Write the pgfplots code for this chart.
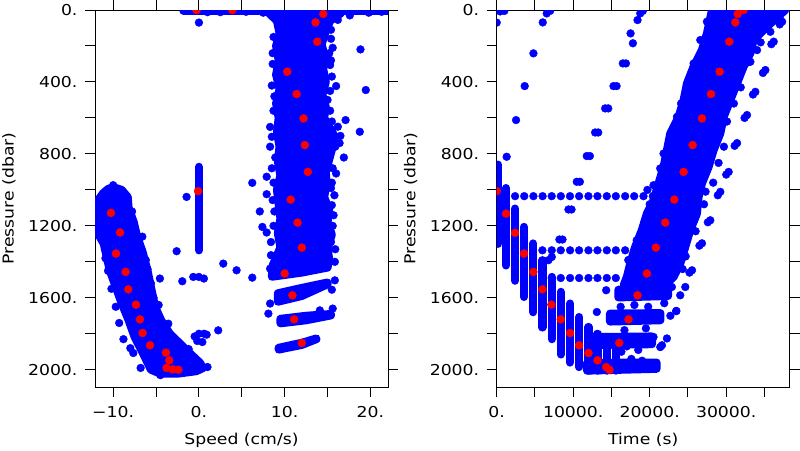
\documentclass[border=0pt]{standalone}
\usepackage{pgfplots}
\pgfplotsset{compat=1.18}
\usepackage{fontspec}
\setmainfont{DejaVu Sans}[FakeStretch=1.15]
\definecolor{dotblue}{RGB}{0,0,255}
\definecolor{dotred}{RGB}{255,0,0}
\pgfplotsset{
  myaxis/.style={
    scale only axis, width=293pt, height=377pt,
    y dir=reverse, ymin=0, ymax=2096,
    ytick={0,400,800,1200,1600,2000},
    yticklabels={0.,400.,800.,1200.,1600.,2000.},
    minor ytick={200,600,1000,1400,1800},
    tick align=outside, major tick length=10pt, minor tick length=10pt,
    every tick/.style={black, line width=1pt},
    axis line style={line width=1pt},
    tick label style={font=\fontsize{15}{18}\selectfont},
    yticklabel style={xshift=-4pt},
    xticklabel style={yshift=-6pt},
    ylabel={Pressure (dbar)},
    every axis y label/.style={at={(axis description cs:-0.2935,0.5)}, rotate=90, anchor=center, font=\fontsize{15}{18}\selectfont},
    every axis x label/.style={at={(axis description cs:0.5,-0.1406)}, anchor=center, font=\fontsize{15}{18}\selectfont},
    clip marker paths=true,
  },
  bdots/.style={only marks, mark=*, mark size=3.9pt, color=dotblue},
  rdots/.style={only marks, mark=*, mark size=4.0pt, color=dotred},
  bpoly/.style={draw=dotblue, fill=dotblue, line width=8pt, line join=round},
  bline/.style={draw=dotblue, line width=8.2pt, line cap=round},
}
\begin{document}
\begin{tikzpicture}
\useasboundingbox (0,0) rectangle (800pt,450pt);
% ---------------- left panel ----------------
\begin{axis}[myaxis, at={(95pt,63pt)}, anchor=south west,
  xmin=-12.12, xmax=22.05, xtick={-10,0,10,20}, xticklabels={−10.,0.,10.,20.},
  minor xtick={-5,5,15}, xlabel={Speed (cm/s)}]
% top row
\addplot[bline] coordinates {(-1.8,4) (22.5,4)};
% upper band
\addplot[bpoly] coordinates {
(8.0,-20) (8.2,20) (9.1,60) (9.4,130) (9.0,200) (9.3,280) (9.0,360) (9.4,440) (9.0,520)
(9.3,600) (9.1,680) (9.4,760) (9.2,840) (9.5,920) (9.1,1000) (9.3,1080) (9.5,1160)
(9.2,1240) (9.5,1320) (8.6,1420) (8.5,1483) (12.0,1460) (15.0,1432) (15.2,1390)
(15.0,1320) (15.5,1250) (15.0,1180) (15.2,1110) (14.6,1040) (14.9,970) (14.8,900)
(15.2,830) (15.6,760) (15.8,700) (15.1,640) (14.6,600) (14.8,540) (14.4,470) (14.8,400)
(14.5,330) (14.7,260) (14.3,190) (14.8,120) (15.3,60) (16.5,20) (17.0,-20)} -- cycle;
% streaks
\addplot[bpoly] coordinates {(9.2,1575) (12.0,1545) (15.0,1515) (15.0,1525) (12.0,1590) (9.2,1622)} -- cycle;
\addplot[bpoly] coordinates {(9.5,1717) (12.5,1700) (15.4,1690) (15.4,1698) (12.5,1725) (9.5,1742)} -- cycle;
\addplot[bpoly] coordinates {(9.3,1878) (12.0,1850) (13.7,1826) (13.7,1830) (12.0,1862) (9.3,1888)} -- cycle;
% left cluster
\addplot[bpoly] coordinates {
(-10.0,985) (-9.0,1000) (-8.3,1040) (-8.2,1100) (-7.6,1180) (-7.2,1261) (-6.6,1340)
(-6.0,1447) (-5.6,1540) (-5.1,1651) (-4.4,1725) (-3.4,1799) (-2.2,1855) (-1.0,1911)
(0.1,1960) (0.5,1990) (-0.3,2008) (-2.5,2022) (-4.5,2022) (-5.6,2000) (-6.5,1911)
(-7.5,1818) (-8.2,1725) (-9.0,1632) (-10.4,1447) (-11.1,1300) (-12.4,1190) (-12.4,1100)
(-11.2,1020) (-10.6,995)} -- cycle;
% column at zero speed
\addplot[bline] coordinates {(0,872) (0,1336)};
% scattered points
\addplot[bdots] coordinates {
(0,70) (1.0,12) (2.5,12) (5.5,10) (7.5,15) (16.2,55) (17.6,30) (19.8,15) (21.3,10) (20.5,5)
(18.84,219) (19.46,445) (18.76,677) (17.1,612) (16.9,820) (15.3,306) (16.0,423) (16.2,649)
(15.9,760) (16.0,909) (15.5,1085) (15.7,1141) (15.85,1400) (15.85,1503) (14.1,1670)
(15.6,1660) (15.5,1555) (15.4,160) (15.2,240) (15.5,370) (15.0,500) (15.3,560) (16.5,700)
(16.4,740) (15.6,880) (15.4,990) (15.6,1200) (15.4,1290)
(6.22,961) (7.9,927) (7.9,1024) (7.1,1120) (7.4,1206) (7.9,1237) (8.3,760) (8.3,650)
(8.5,705) (8.6,1057) (8.4,1363) (2.84,1410) (4.39,1447) (6.22,1488) (8.3,1438) (8.1,1688)
(8.3,1632) (2.25,1781) (8.6,300) (8.5,420) (8.7,560) (8.5,880) (8.4,1290)
(8.7,150) (8.6,240) (8.8,480) (8.9,820) (8.7,960) (8.8,1120) (8.7,1200)
(15.4,110) (15.6,210) (15.4,280) (15.3,450) (15.5,620) (15.5,960) (15.8,1030) (15.9,1330)
(-1.44,1039) (-2.6,1341) (0,1484) (-0.66,1484) (0.58,1493) (-1.94,1508) (-4.55,1493)
(-0.5,1815) (0,1800) (0.6,1800) (-0.2,1840) (0.4,1846) (0.9,1805)
(-10,974) (-7.65,1907) (-3.57,1744) (-1.2,1885) (1.0,1985) (-11.3,1050) (-9.4,1050)
(-7.8,1120) (-7.0,1300) (-6.2,1390) (-5.6,1520) (-4.7,1640) (-10.6,1450) (-9.7,1650)
(-8.8,1830) (-6.8,1990) (-4.5,2030) (-2.0,2015) (-6.6,1260) (-6.0,1440)
(-10.9,1380) (-11.5,1260) (-10.2,1550) (-9.3,1740) (-8.0,1880) (-5.3,1600) (-3.9,1780)};
% red points
\addplot[rdots] coordinates {
(-0.27,0) (3.9,0) (14.5,22) (13.6,69) (13.8,176) (10.3,343) (11.4,467) (12.2,603)
(12.35,751) (12.7,900) (10.7,1054) (11.5,1182) (12.0,1321) (10.0,1465) (10.9,1586)
(11.1,1720) (12.0,1851) (-0.1,1007) (-10.26,1128) (-9.2,1237) (-9.67,1354) (-8.55,1456)
(-8.24,1553) (-7.34,1638) (-6.88,1720) (-6.57,1796) (-5.7,1864) (-3.85,1905) (-3.46,1948)
(-3.77,1990) (-3.07,1998) (-2.4,2000)};
\end{axis}
% ---------------- right panel ----------------
\begin{axis}[myaxis, at={(496.7pt,63pt)}, anchor=south west,
  xmin=0, xmax=38300, xtick={0,10000,20000,30000}, xticklabels={0.,10000.,20000.,30000.},
  minor xtick={5000,15000,25000,35000}, scaled x ticks=false, xlabel={Time (s)}]
% main band
\addplot[bpoly] coordinates {
(28140,-20) (28140,0) (27480,130) (26820,223) (25730,315) (24870,408) (24430,501)
(23780,594) (22690,686) (22250,779) (21810,872) (21150,965) (20500,1057) (19630,1132)
(18970,1224) (18100,1317) (17450,1410) (17010,1484) (16600,1530) (22250,1521)
(23120,1484) (23990,1410) (24650,1317) (25300,1224) (26170,1132) (26390,1039)
(26820,965) (27700,872) (28350,779) (29230,686) (29670,594) (30540,501) (31410,408)
(32280,315) (33150,241) (33590,167) (35330,93) (37730,0) (37730,-20)} -- cycle;
% horizontal streaks
\addplot[bpoly] coordinates {(15900,1555) (22400,1555) (22400,1590) (15900,1598)} -- cycle;
\addplot[bpoly] coordinates {(14800,1688) (21400,1685) (21400,1725) (14800,1732)} -- cycle;
\addplot[bpoly] coordinates {(13400,1818) (20300,1815) (20300,1858) (13400,1862)} -- cycle;
\addplot[bpoly] coordinates {(11800,1962) (20900,1960) (20900,1995) (11800,2005)} -- cycle;
% descending columns
\addplot[bline] coordinates {(200,860) (200,1300)};
\addplot[bline] coordinates {(1217,990) (1217,1420)};
\addplot[bline] coordinates {(2395,1104) (2395,1505)};
\addplot[bline] coordinates {(3573,1206) (3573,1595)};
\addplot[bline] coordinates {(4795,1298) (4795,1680)};
\addplot[bline] coordinates {(5973,1391) (5973,1765)};
\addplot[bline] coordinates {(7194,1484) (7194,1830)};
\addplot[bline] coordinates {(8373,1567) (8373,1915)};
\addplot[bline] coordinates {(9594,1632) (9594,1960)};
\addplot[bline] coordinates {(10773,1707) (10773,1985)};
\addplot[bline] coordinates {(11994,1762) (11994,2005)};
\addplot[bline] coordinates {(13172,1800) (13172,2005)};
\addplot[bline] coordinates {(14394,1818) (14394,2005)};
\addplot[bline] coordinates {(15572,1830) (15572,2005)};
% rows of points
\addplot[bdots] coordinates {
(2400,1035) (3600,1035) (4800,1035) (6000,1035) (7190,1035) (8380,1035) (9580,1035)
(10770,1035) (11990,1035) (13170,1035) (14390,1035) (15570,1035) (16790,1035) (17970,1035)
(19190,1035) (20410,1035)
(5973,1336) (7194,1336) (8373,1336) (9594,1336) (10773,1336) (11994,1336) (13172,1336)
(14394,1336) (15572,1336) (16793,1336) (17971,1336)
(7194,1490) (8373,1490) (9594,1490) (10773,1490) (11994,1490) (13172,1490) (14394,1490)
(15572,1490)};
% scattered points
\addplot[bdots] coordinates {
(0,70) (450,8) (1000,5) (1300,816) (2530,612) (3660,423) (4800,241) (6020,69) (6540,19) (6980,5)
(8198,1276) (8600,1276) (9377,1109) (9780,1109) (10467,955) (10870,955) (11776,812)
(12180,812) (12867,681) (13270,681) (14176,547) (14580,547) (15267,423) (15670,423)
(16489,297) (16890,297) (17500,130) (17800,185) (18410,56) (18760,19) (19100,5)
(37310,65) (37000,80) (36210,176) (35900,190) (35120,334) (34800,350) (33810,455)
(33500,470) (32720,584) (32400,600) (31420,740) (31100,755) (30320,900) (30000,915)
(29230,1011) (28900,1030) (27920,1169) (27600,1180) (26830,1297) (26500,1310)
(25530,1447) (25200,1460) (24650,1540) (23470,1674) (22250,1826) (21380,1874)
(34030,223) (33160,288) (36700,30)
(20500,974) (21810,798) (23560,594) (24870,436) (25740,297) (26610,167) (27480,65)
(21370,881) (19300,1180) (18300,1280) (17200,1390) (22700,700) (24100,520) (25300,380)
(20000,1080) (19700,1000) (18700,1260) (17800,1360)
(36650,19) (37090,56) (35770,121) (34500,180) (31900,430) (30100,620) (29700,760)
(28300,960) (27100,1080) (26000,1230) (24700,1370) (32900,290) (31000,520) (29000,850)
(27300,1010) (25800,1170) (24300,1440)
(14310,1558) (13090,1679) (6760,1391) (7200,1373) (22900,1540) (23990,1586) (23470,1673)
(20500,1818) (21600,1864) (22700,1700) (21900,1630) (19500,1770) (18500,1890)
(17600,1940) (16700,1780) (16200,1650) (17300,1510) (15800,1960) (19000,1950) (20300,1990)
(18000,1640) (19800,1650) (17000,1870) (16300,1900)};
% red points
\addplot[rdots] coordinates {
(0,1007) (1217,1132) (2395,1239) (3573,1354) (4795,1456) (5973,1553) (7151,1638)
(8373,1720) (9594,1796) (10773,1864) (11994,1907) (13172,1948) (14307,1985) (14743,2000)
(16009,1851) (17230,1720) (18409,1586) (19630,1465) (20808,1321) (22030,1182)
(23208,1054) (24430,900) (25608,751) (26830,603) (28008,467) (29143,343) (30408,176)
(31194,69) (31500,22) (32285,0)};
\end{axis}
\end{tikzpicture}
\end{document}
